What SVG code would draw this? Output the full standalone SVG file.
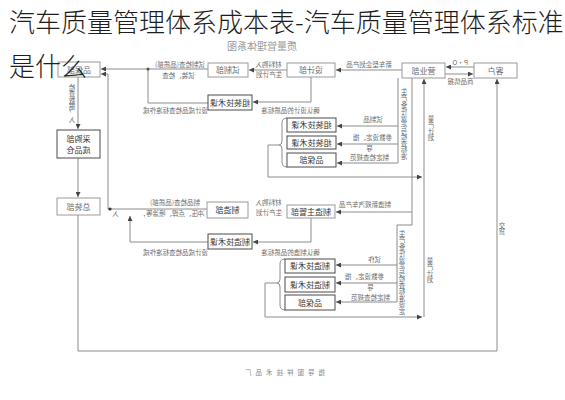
<svg xmlns="http://www.w3.org/2000/svg" width="565" height="400" viewBox="0 0 565 400">
<style>
.bg{fill:#fff}
.ln{fill:none;stroke:#8c8c8c;stroke-width:1}
.bx{fill:#fff;stroke:#9a9a9a;stroke-width:1}
.bd{fill:#fff;stroke:#4a4a4a;stroke-width:1}
.t{font-family:"Noto Sans CJK SC","Noto Sans",sans-serif;font-size:8px;fill:#6a6a6a;text-anchor:middle}
.td{fill:#333}
.s{font-size:6.5px}
.m{transform-box:fill-box;transform-origin:center;transform:scaleX(-1)}
.v{writing-mode:vertical-rl;text-orientation:upright;text-anchor:start}
.title{font-family:"Noto Sans CJK SC","Noto Sans",sans-serif;font-size:26px;font-weight:300;fill:#1e1e1e}
</style>
<defs>
<marker id="a" viewBox="0 0 6 6" refX="6" refY="3" markerWidth="5" markerHeight="5" orient="auto"><path d="M0,0L6,3L0,6z" fill="#444"/></marker>
</defs>
<rect class="bg" x="0" y="0" width="565" height="400"/>
<text class="t m" x="262" y="50" style="font-size:10px;fill:#9a9a9a">质量管理体系图</text>

<g id="connectors">
<path class="ln" d="M474,67H446" marker-end="url(#a)"/>
<path class="ln" d="M445,74H473" marker-end="url(#a)"/>
<path class="ln" d="M402,70H336" marker-end="url(#a)"/>
<path class="ln" d="M287,70H249" marker-end="url(#a)"/>
<path class="ln" d="M208,69H101" marker-end="url(#a)"/>
<path class="ln" d="M208,103H148V69"/>
<circle cx="148" cy="69" r="1.6" fill="#555"/>
<path class="ln" d="M311,77V102H253" marker-end="url(#a)"/>
<path class="ln" d="M398,78V163"/>
<path class="ln" d="M398,126H337" marker-end="url(#a)"/>
<path class="ln" d="M398,144H337" marker-end="url(#a)"/>
<path class="ln" d="M398,163H337" marker-end="url(#a)"/>
<path class="ln" d="M412,78V225H397V302"/>
<path class="ln" d="M412,212H336" marker-end="url(#a)"/>
<path class="ln" d="M397,265H336" marker-end="url(#a)"/>
<path class="ln" d="M397,283H336" marker-end="url(#a)"/>
<path class="ln" d="M397,302H336" marker-end="url(#a)"/>
<path class="ln" d="M287,118Q282,118 282,123V141Q282,145 279,145Q282,145 282,149V162Q282,167 287,167"/>
<path class="ln" d="M279,145H268V177H422" marker-end="url(#a)"/>
<path class="ln" d="M285,259Q280,259 280,264V279Q280,283 277,283Q280,283 280,287V305Q280,310 285,310"/>
<path class="ln" d="M277,283H265V317H422" marker-end="url(#a)"/>
<path class="ln" d="M424,317V79" marker-end="url(#a)"/>
<path class="ln" d="M78,215V351H497V79" marker-end="url(#a)"/>
<path class="ln" d="M78,77V129" marker-end="url(#a)"/>
<path class="ln" d="M78,158V197" marker-end="url(#a)"/>
<path class="ln" d="M207,209H108V74H101" marker-end="url(#a)"/>
<circle cx="110" cy="209" r="1.6" fill="#333"/>
<path class="ln" d="M311,218V242H253" marker-end="url(#a)"/>
<path class="ln" d="M208,242H130V216" marker-end="url(#a)"/>
</g>

<g id="labels">
<text class="t s m" x="460" y="65">P·O</text>
<text class="t s m" x="460" y="84">商品情报</text>
<text class="t s m" x="369" y="67">新车型企划产品</text>
<text class="t s m" x="268" y="67">材料购入</text>
<text class="t s m" x="269" y="77">生产计划</text>
<text class="t s m" x="180" y="67">试制检查(品质部)</text>
<text class="t s m" x="178" y="78">试装、检查</text>
<text class="t s m" x="175" y="113">设计成品检查标准作成</text>
<text class="t s m" x="290" y="113">确认设计的品质标准</text>
<text class="t s m" x="373" y="122">试制品</text>
<text class="t s m" x="372" y="140">参数设定、指</text>
<text class="t s m" x="369" y="151">导</text>
<text class="t s m" x="369" y="160">制定检查规范</text>
<text class="t s m v" x="404" y="88">生产条件设定与检查标准</text>
<text class="t s m v" x="431" y="115">量产计划</text>
<text class="t s m" x="365" y="207">制造新规汽车产品</text>
<text class="t s m" x="268" y="205">材料购入</text>
<text class="t s m" x="269" y="215">生产计划</text>
<text class="t s m" x="175" y="205">制品检查(品质部)</text>
<text class="t s m" x="172" y="216">冲压、点焊、喷涂等，</text>
<text class="t s m" x="115" y="216">入</text>
<text class="t s m" x="175" y="255">设计成品检查标准作成</text>
<text class="t s m" x="290" y="255">确认制造的品质标准</text>
<text class="t s m" x="374" y="262">试作</text>
<text class="t s m" x="364" y="279">参数设定、指</text>
<text class="t s m" x="370" y="290">导</text>
<text class="t s m" x="370" y="300">制定检查规范</text>
<text class="t s m v" x="402" y="230">生产条件设定与检查标准设定</text>
<text class="t s m v" x="430" y="257">量产计划</text>
<text class="t s m v" x="502" y="222">交货</text>
<text class="t s m v" x="72" y="84">检查数据，入</text>
<text class="t s m" x="283" y="375" style="letter-spacing:4px;fill:#888">指导图样技术品厂</text>
</g>

<g id="n_kehu"><rect class="bx" x="474" y="63" width="43" height="15"/><text class="t m" x="495.5" y="73.5">客户</text></g>
<g id="n_yingye"><rect class="bx" x="402" y="63" width="43" height="15"/><text class="t m" x="423.5" y="73.5">营业部</text></g>
<g id="n_sheji"><rect class="bx" x="287" y="63" width="48" height="14"/><text class="t m" x="311" y="73">设计部</text></g>
<g id="n_shizhi"><rect class="bx" x="208" y="63" width="40" height="14"/><text class="t m" x="228" y="73">试制部</text></g>
<g id="n_pinbao"><rect class="bx" x="58" y="62" width="42" height="15"/><text class="t m" x="79" y="72.5">品保部</text></g>
<g id="n_caigou"><rect class="bd" x="57" y="130" width="43" height="28"/><text class="t td m" x="78.5" y="142">采购部</text><text class="t td m" x="78.5" y="153">成品仓</text></g>
<g id="n_zongzhuang"><rect class="bx" x="57" y="198" width="43" height="17"/><text class="t m" x="78.5" y="209.5">总装部</text></g>
<g id="n_zzjs0"><rect class="bd" x="208" y="95" width="44" height="15"/><text class="t td m" x="230" y="105.5">组装技术课</text></g>
<g id="n_zzjs1"><rect class="bd" x="287" y="118" width="49" height="14"/><text class="t td m" x="311.5" y="128">组装技术课</text></g>
<g id="n_zzjs2"><rect class="bd" x="287" y="136" width="49" height="13"/><text class="t td m" x="311.5" y="145.5">组装技术课</text></g>
<g id="n_pb1"><rect class="bd" x="287" y="153" width="49" height="14"/><text class="t td m" x="311.5" y="163">品保部</text></g>
<g id="n_zhizao"><rect class="bx" x="207" y="202" width="41" height="16"/><text class="t td m" x="227.5" y="213">制造部</text></g>
<g id="n_zzzg"><rect class="bx" x="287" y="205" width="48" height="13"/><text class="t td m" x="311" y="214.5">制造主管部</text></g>
<g id="n_zzjs3"><rect class="bd" x="208" y="234" width="44" height="15"/><text class="t td m" x="230" y="244.5">制造技术课</text></g>
<g id="n_zzjs4"><rect class="bd" x="285" y="259" width="50" height="14"/><text class="t td m" x="310" y="269">制造技术课</text></g>
<g id="n_zzjs5"><rect class="bd" x="285" y="277" width="50" height="15"/><text class="t td m" x="310" y="287.5">制造技术课</text></g>
<g id="n_pb2"><rect class="bd" x="285" y="295" width="50" height="15"/><text class="t td m" x="310" y="305.5">品保部</text></g>

<g id="title">
<text class="title" x="9" y="32">汽车质量管理体系成本表-汽车质量管理体系标准</text>
<text class="title" x="9" y="76">是什么</text>
</g>
</svg>
